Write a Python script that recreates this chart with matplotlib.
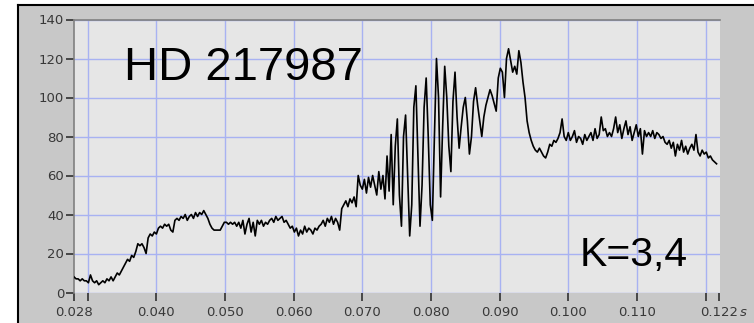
import matplotlib
matplotlib.use("Agg")
import matplotlib.pyplot as plt
from matplotlib.patches import Rectangle
from matplotlib.lines import Line2D
import numpy as np

# sampled trace (one value every 0.3 ms, starting at 0.028 s)
t_start = 0.028
t_step = 0.0003
signal = [
    8, 7, 7, 6, 7, 6, 6, 5, 9, 6,
    5, 6, 4, 5, 6, 5, 7, 6, 8, 6,
    8, 10, 9, 11, 13, 15, 17, 16, 19, 18,
    21, 25, 24, 25, 23, 20, 28, 30, 29, 31,
    30, 33, 34, 33, 35, 34, 35, 32, 31, 37,
    38, 37, 39, 38, 40, 37, 39, 40, 38, 41,
    39, 41, 40, 42, 40, 38, 35, 33, 32, 32,
    32, 32, 34, 36, 36, 35, 36, 35, 36, 34,
    36, 33, 37, 30, 35, 38, 31, 36, 29, 37,
    35, 37, 34, 36, 35, 37, 38, 36, 39, 37,
    38, 39, 36, 37, 35, 33, 34, 31, 33, 29,
    32, 30, 34, 31, 33, 32, 30, 33, 32, 34,
    35, 37, 34, 38, 36, 39, 35, 38, 36, 32,
    43, 45, 47, 44, 48, 46, 49, 44, 60, 55,
    53, 58, 51, 59, 54, 60, 55, 50, 62, 53,
    60, 48, 70, 52, 81, 45, 75, 89, 50, 34,
    80, 91, 60, 29, 45, 95, 106, 70, 34, 55,
    95, 110, 80, 45, 37, 80, 120, 100, 49, 85,
    116, 100, 75, 62, 98, 113, 90, 74, 85, 95,
    100, 88, 71, 80, 98, 105, 96, 88, 80, 90,
    96, 100, 104, 101, 97, 93, 110, 115, 113, 100,
    120, 125, 119, 113, 116, 112, 124, 118, 108, 100,
    88, 82, 78, 75, 73, 72, 74, 72, 70, 69,
    72, 76, 75, 78, 77, 79, 82, 89, 80, 78,
    82, 78, 80, 83, 77, 80, 79, 76, 81, 78,
    80, 82, 78, 84, 79, 81, 90, 83, 84, 80,
    82, 80, 84, 90, 82, 86, 79, 84, 88, 81,
    85, 78, 82, 86, 80, 84, 71, 83, 80, 82,
    80, 83, 79, 82, 81, 79, 80, 77, 76, 78,
    74, 77, 70, 76, 73, 78, 72, 75, 71, 74,
    76, 73, 81, 72, 70, 73, 71, 72, 69, 70,
    68, 67, 66,
]

x_ticks = [0.028, 0.030, 0.040, 0.050, 0.060, 0.070, 0.080, 0.090,
           0.100, 0.110, 0.120, 0.122]
x_labels = ["0.028", "", "0.040", "0.050", "0.060", "0.070", "0.080",
            "0.090", "0.100", "0.110", "", "0.122"]
y_ticks = [0, 20, 40, 60, 80, 100, 120, 140]

title = "HD 217987"
note = "K=3,4"

time = t_start + t_step * np.arange(len(signal))

W, H = 754, 323
fig = plt.figure(figsize=(W / 100, H / 100), dpi=100, facecolor="white")

# grey panel with black top/left border (behind the axes)
fig.patches.append(Rectangle((18 / W, 0), 1 - 18 / W, 1 - 5 / H,
                             transform=fig.transFigure, facecolor="#c8c8c8",
                             edgecolor="none", zorder=-5))
fig.lines.append(Line2D([18 / W, 1], [1 - 5 / H, 1 - 5 / H],
                        transform=fig.transFigure, color="black", lw=1.5,
                        zorder=-4))
fig.lines.append(Line2D([18 / W, 18 / W], [0, 1 - 5 / H],
                        transform=fig.transFigure, color="black", lw=1.5,
                        zorder=-4))

ax = fig.add_axes([74 / W, (H - 292.5) / H, (720 - 74) / W, (292.5 - 19.5) / H])
ax.set_zorder(1)
ax.set_facecolor("#e6e6e6")

ax.plot(time, signal, color="black", lw=1.2, zorder=3)

ax.set_xlim(0.028, 0.1221)
ax.set_ylim(0, 140)

ax.set_xticks(x_ticks)
ax.set_xticklabels(x_labels)
ax.set_yticks(y_ticks)

ax.grid(True, color="#a8b2f2", lw=1)
gl = ax.xaxis.get_gridlines()
gl[0].set_visible(False)
gl[-1].set_visible(False)

for side in ["bottom", "right"]:
    ax.spines[side].set_visible(False)
for side in ["left", "top"]:
    ax.spines[side].set_color("#808080")
    ax.spines[side].set_linewidth(1.2)

ax.tick_params(axis="both", direction="out", length=6, width=1.2,
               color="#303030", labelcolor="#383838", labelsize=9.5)
ax.tick_params(axis="y", pad=1)
ax.tick_params(axis="x", pad=4)

ax.text(0.1250, -10.2, "s", fontsize=9.5, style="italic", color="#383838",
        ha="left", va="center", clip_on=False)

ax.text(0.03525, 109, title, fontsize=34, family="Liberation Sans",
        color="black", ha="left", va="baseline")
ax.text(0.10162, 13.6, note, fontsize=29.5, family="Liberation Sans",
        color="black", ha="left", va="baseline")

fig.savefig("out.png", dpi=100, facecolor=fig.get_facecolor())
